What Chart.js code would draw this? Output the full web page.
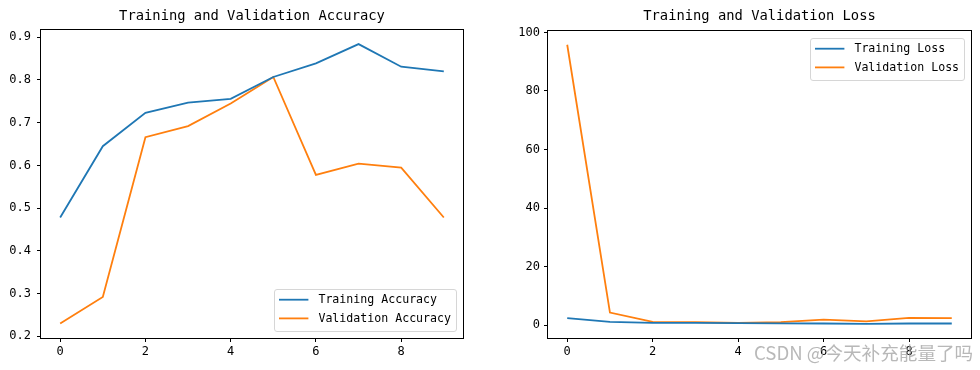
<!DOCTYPE html>
<html>
<head>
<meta charset="utf-8">
<script src="https://cdn.jsdelivr.net/npm/chart.js@4/dist/chart.umd.min.js"></script>
<style>
  html, body { margin: 0; padding: 0; background: #fff; width: 980px; height: 370px; overflow: hidden; }
  canvas { position: absolute; top: 0; }
  #wm { position: absolute; left: 754px; top: 340px; font-family: "Noto Sans CJK SC", sans-serif; font-size: 18.6px; line-height: 24px; color: rgba(160,160,160,0.75); white-space: nowrap; }
</style>
</head>
<body>
<canvas id="acc" width="490" height="370" style="left:0;width:490px;height:370px"></canvas>
<canvas id="loss" width="490" height="370" style="left:490px;width:490px;height:370px"></canvas>
<div id="wm">CSDN @今天补充能量了吗</div>
<script>
// ---- data ----
const epochs = [0, 1, 2, 3, 4, 5, 6, 7, 8, 9];
const trainAcc = [0.478, 0.645, 0.723, 0.747, 0.756, 0.807, 0.839, 0.884, 0.831, 0.820];
const valAcc   = [0.230, 0.292, 0.666, 0.692, 0.745, 0.807, 0.578, 0.604, 0.595, 0.478];
const trainLoss = [2.4, 1.1, 0.8, 0.75, 0.65, 0.6, 0.55, 0.45, 0.55, 0.55];
const valLoss   = [95.8, 4.3, 1.1, 1.0, 0.8, 1.0, 1.9, 1.3, 2.5, 2.4];
const xTicks = [0, 2, 4, 6, 8];
const accTicks = [0.2, 0.3, 0.4, 0.5, 0.6, 0.7, 0.8, 0.9];
const lossTicks = [0, 20, 40, 60, 80, 100];
const accTitle = 'Training and Validation Accuracy';
const lossTitle = 'Training and Validation Loss';
const accLabels = ['Training Accuracy', 'Validation Accuracy'];
const lossLabels = ['Training Loss', 'Validation Loss'];

const BLUE = '#1f77b4', ORANGE = '#ff7f0e';
const MONO = '"DejaVu Sans Mono", "Liberation Mono", monospace';

function pts(xs, ys) { return xs.map((x, i) => ({x: x, y: ys[i]})); }

const framePlugin = {
  id: 'frame',
  afterDraw(chart, args, opts) {
    const ctx = chart.ctx, a = chart.chartArea;
    ctx.save();
    ctx.strokeStyle = '#000';
    ctx.lineWidth = 1;
    ctx.strokeRect(Math.round(a.left) - 0.5, Math.round(a.top) - 0.5, Math.round(a.right - a.left) + 1, Math.round(a.bottom - a.top) + 1);
    // title
    ctx.fillStyle = '#000';
    ctx.font = '13.8px ' + MONO;
    ctx.textAlign = 'center';
    ctx.textBaseline = 'middle';
    ctx.fillText(opts.title, (a.left + a.right) / 2, 16.5);
    // legend
    ctx.font = '11.6px ' + MONO;
    const ds = chart.data.datasets;
    let tw = 0;
    ds.forEach(d => { tw = Math.max(tw, ctx.measureText(d.label).width); });
    const w = Math.round(5 + 29.4 + 10 + tw + 5.3), h = 42;
    const x0 = Math.round(a.right - 7 - w);
    const y0 = opts.legendPos === 'lr' ? Math.round(a.bottom - 7 - h) : Math.round(a.top + 7);
    ctx.beginPath();
    if (ctx.roundRect) ctx.roundRect(x0 + 0.5, y0 + 0.5, w, h, 2.5); else ctx.rect(x0 + 0.5, y0 + 0.5, w, h);
    ctx.fillStyle = 'rgba(255,255,255,0.8)';
    ctx.fill();
    ctx.strokeStyle = '#d6d6d6';
    ctx.lineWidth = 1;
    ctx.stroke();
    ds.forEach((d, i) => {
      const cy = y0 + 10.7 + i * 18.7;
      ctx.beginPath();
      ctx.moveTo(x0 + 5, cy);
      ctx.lineTo(x0 + 34.4, cy);
      ctx.strokeStyle = d.borderColor;
      ctx.lineWidth = 1.8;
      ctx.stroke();
      ctx.fillStyle = '#000';
      ctx.textAlign = 'left';
      ctx.textBaseline = 'middle';
      ctx.fillText(d.label, x0 + 44.4, cy + 0.5);
    });
    ctx.restore();
  }
};

function makeChart(id, labels, series, yTicks, yMin, yMax, yFmt, pad, yWidth, xHeight, yPad, title, legendPos) {
  return new Chart(document.getElementById(id), {
    type: 'line',
    data: {
      datasets: series.map((s, i) => ({
        label: labels[i],
        data: pts(epochs, s),
        borderColor: i === 0 ? BLUE : ORANGE,
        backgroundColor: i === 0 ? BLUE : ORANGE,
        borderWidth: 1.8,
        pointRadius: 0,
        tension: 0,
        fill: false
      }))
    },
    options: {
      responsive: false,
      devicePixelRatio: 1,
      animation: false,
      layout: { padding: pad },
      plugins: {
        legend: { display: false },
        title: { display: false },
        tooltip: { enabled: false },
        frame: { title: title, legendPos: legendPos }
      },
      scales: {
        x: {
          type: 'linear',
          min: -0.45, max: 9.45,
          afterBuildTicks(s) { s.ticks = xTicks.map(v => ({value: v})); },
          afterFit(s) { s.height = xHeight; },
          grid: { display: true, drawOnChartArea: false, drawTicks: true, tickLength: 4, color: '#000', lineWidth: 1 },
          border: { display: false },
          ticks: { color: '#000', font: { family: MONO, size: 12 }, padding: 3, maxRotation: 0, callback: v => String(v) }
        },
        y: {
          type: 'linear',
          min: yMin, max: yMax,
          afterBuildTicks(s) { s.ticks = yTicks.map(v => ({value: v})); },
          afterFit(s) { s.width = yWidth; },
          grid: { display: true, drawOnChartArea: false, drawTicks: true, tickLength: 4, color: '#000', lineWidth: 1 },
          border: { display: false },
          ticks: { color: '#000', font: { family: MONO, size: 12 }, padding: yPad, callback: yFmt }
        }
      }
    },
    plugins: [framePlugin]
  });
}

makeChart('acc', accLabels, [trainAcc, valAcc], accTicks, 0.196, 0.917, v => v.toFixed(1),
  { left: 0, top: 30, right: 27, bottom: 0 }, 41, 32, 6, accTitle, 'lr');
makeChart('loss', lossLabels, [trainLoss, valLoss], lossTicks, -4.4, 100.5, v => String(Math.round(v)),
  { left: 0, top: 31, right: 9, bottom: 0 }, 58, 32, 4, lossTitle, 'ur');
</script>
</body>
</html>
